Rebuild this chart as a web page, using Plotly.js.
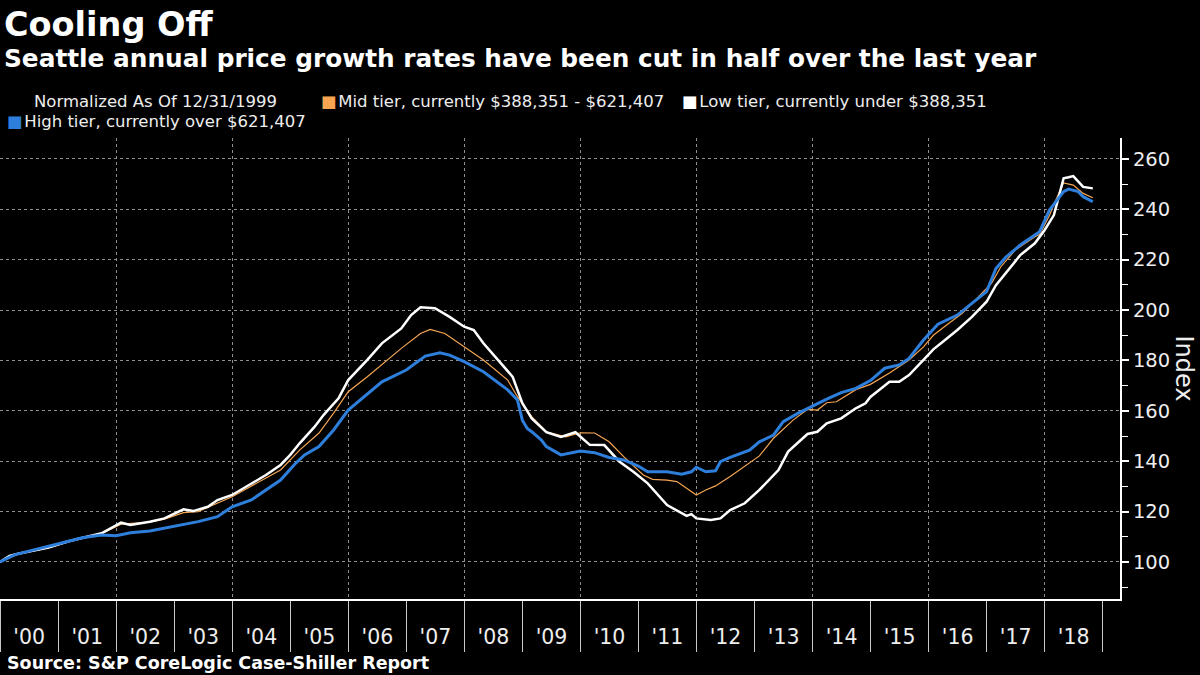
<!DOCTYPE html>
<html>
<head>
<meta charset="utf-8">
<script src="https://cdn.plot.ly/plotly-3.0.1.min.js"></script>
<style>
html, body { margin: 0; padding: 0; background: #000; }
#chart { width: 1200px; height: 675px; }
</style>
</head>
<body>
<div id="chart"></div>
<script>
// ---------------- Text ----------------
const titleText = "Cooling Off";
const subtitleText = "Seattle annual price growth rates have been cut in half over the last year";
const sourceText = "Source: S&P CoreLogic Case-Shiller Report";
const yAxisTitle = "Index";
const normalizedNote = "Normalized As Of 12/31/1999";
const midName = "Mid tier, currently $388,351 - $621,407";
const lowName = "Low tier, currently under $388,351";
const highName = "High tier, currently over $621,407";

// ---------------- Data (index, 12/31/1999 = 100; month of observation) ----------------
const lowMonths = ["1999-12","2000-02","2000-04","2000-07","2000-10","2001-02","2001-05","2001-09","2002-01","2002-03",
  "2002-07","2002-10","2003-02","2003-04","2003-07","2003-09","2003-12","2004-04","2004-07","2004-10",
  "2004-12","2005-02","2005-05","2005-07","2005-10","2005-12","2006-04","2006-07","2006-11","2007-01",
  "2007-03","2007-06","2007-09","2007-12","2008-02","2008-04","2008-07","2008-10","2008-12","2009-02",
  "2009-05","2009-08","2009-11","2010-02","2010-05","2010-08","2010-11","2011-02","2011-06","2011-08",
  "2011-10","2011-11","2011-12","2012-03","2012-05","2012-07","2012-10","2013-01","2013-05","2013-07",
  "2013-10","2013-11","2014-01","2014-03","2014-06","2014-09","2014-11","2014-12","2015-02","2015-04",
  "2015-06","2015-08","2015-11","2016-01","2016-03","2016-06","2016-09","2016-12","2017-02","2017-04",
  "2017-07","2017-10","2017-12","2018-02","2018-04","2018-05","2018-06","2018-08","2018-10"];
const lowValues = [100,102.4,103.4,104.5,105.7,108.1,109.6,111.4,115.6,114.7,
  116,117.3,120.9,120.2,121.9,124.6,126.6,131.2,134.5,138.5,
  142.5,147.1,153.5,158.5,165,172.2,180.2,186.8,192.7,198,
  201.1,200.7,197.3,193.4,192.1,186.8,180.2,173.5,163,157,
  151.5,149.6,151.5,146.5,146.4,140,135.8,131.2,122.6,120.6,
  118.3,119,117.3,116.7,117.3,120.6,123.3,128.6,136.5,143.8,
  149.1,150.8,151.7,155,157,161,163,165.5,168.5,171.5,
  171.5,174.2,180.2,184.4,187.4,192.1,197.3,203.3,209.9,214.6,
  221.8,226.5,231.7,237.7,252.3,252.7,253.2,248.9,248.3];

const midMonths = ["1999-12","2000-04","2000-10","2001-05","2001-09","2002-01","2002-07","2002-10","2003-02","2003-05",
  "2003-12","2004-07","2004-10","2005-02","2005-06","2005-09","2005-12","2006-04","2006-11","2007-03",
  "2007-05","2007-08","2007-12","2008-04","2008-09","2008-11","2009-02","2009-05","2009-09","2009-12",
  "2010-03","2010-06","2010-09","2011-01","2011-03","2011-06","2011-08","2011-10","2011-12","2012-02",
  "2012-04","2012-07","2012-11","2013-01","2013-04","2013-08","2013-11","2014-01","2014-03","2014-05",
  "2014-09","2014-12","2015-04","2015-08","2015-11","2016-01","2016-04","2016-07","2016-10","2017-01",
  "2017-03","2017-06","2017-10","2017-11","2018-01","2018-02","2018-04","2018-06","2018-08","2018-10"];
const midValues = [100,103.3,105.6,109.5,111.2,115,115.8,117,119.6,120,
  125.9,133.2,136.5,144.4,151.2,159.1,167.6,173.5,184.8,190.7,
  192.3,190.7,185.4,180.2,172.2,165.6,157.7,151.7,149.7,151.3,
  151.2,147.7,141.8,134.5,132.8,132.5,131.9,129.2,126.6,128.6,
  130.2,133.9,139.2,142.1,149.1,156.3,160.6,160.3,163.2,163.6,
  168.4,170.5,175,180.2,185.4,190,194.4,198.7,204.6,210.6,
  217.2,223.8,229.1,230,237.5,242,250.5,249.6,246.3,244.6];

const highMonths = ["1999-12","2000-03","2000-07","2000-10","2001-02","2001-05","2001-09","2001-12","2002-03","2002-07",
  "2002-10","2003-02","2003-05","2003-09","2003-12","2004-04","2004-07","2004-10","2005-01","2005-03",
  "2005-06","2005-09","2005-12","2006-07","2006-12","2007-04","2007-07","2007-09","2007-12","2008-04",
  "2008-09","2008-11","2008-12","2009-01","2009-02","2009-04","2009-05","2009-08","2009-12","2010-03",
  "2010-06","2010-09","2010-12","2011-02","2011-06","2011-09","2011-11","2011-12","2012-02","2012-04",
  "2012-05","2012-07","2012-11","2013-01","2013-04","2013-06","2013-09","2013-12","2014-03","2014-06",
  "2014-09","2014-12","2015-03","2015-06","2015-08","2015-11","2016-02","2016-06","2016-09","2016-12",
  "2017-02","2017-04","2017-07","2017-11","2018-01","2018-03","2018-04","2018-05","2018-07","2018-08","2018-10"];
const highValues = [100,102.8,104.8,106.1,108.1,109.6,110.7,110.4,111.6,112.3,
  113.4,114.7,116,118,121.9,124.6,128.6,132.5,139,142.5,
  145.8,152.4,160.3,171.5,176.2,181.7,183,182.1,179.5,175.5,
  168.3,164.3,156.3,153,151.7,148.4,145.8,142.5,144,143.4,
  141.5,140.5,138.1,135.8,135.8,134.8,135.8,137.6,135.8,136.2,
  139.8,141.5,144.4,147.7,150.4,155.7,159,161.9,164.6,167.2,
  168.9,172,176.9,178.2,180.8,188.1,194.4,198,202.7,207.3,
  216.5,220.9,225.8,231.1,239.7,244.3,247,248,247,245,243];

// ---------------- Style ----------------
const midColor = "#f5a552";
const lowColor = "#ffffff";
const highColor = "#2d7fdb";
const textColor = "#eeeeee";
const gridColor = "#8f8f8f";
const FONT = "DejaVu Sans";

const W = 1200, H = 675;
const M = {l: 0, r: 80, t: 138, b: 76};
const PW = W - M.l - M.r, PH = H - M.t - M.b;
const pxX = x => (x - M.l) / PW;
const pxY = y => (H - M.b - y) / PH;

// observations are plotted at the end of their month
function monthEnd(s) {
  const [y, m] = s.split("-").map(Number);
  return new Date(Date.UTC(y, m, 0)).toISOString().slice(0, 10);
}

const xRange = ["1999-12-31", "2019-04-20"];

const traces = [
  {type: "scatter", mode: "lines", name: midName, x: midMonths.map(monthEnd), y: midValues,
   line: {color: midColor, width: 1.2}, hoverinfo: "skip"},
  {type: "scatter", mode: "lines", name: lowName, x: lowMonths.map(monthEnd), y: lowValues,
   line: {color: lowColor, width: 2.5}, hoverinfo: "skip"},
  {type: "scatter", mode: "lines", name: highName, x: highMonths.map(monthEnd), y: highValues,
   line: {color: highColor, width: 3}, hoverinfo: "skip"},
  {type: "scatter", mode: "lines", x: [], y: [], xaxis: "x2", yaxis: "y", showlegend: false, hoverinfo: "skip"}
];

function legendItem(color, label) {
  return '<span style="color:' + color + '">\u25A0</span>\u200A' + label;
}

const legendFont = {family: FONT, size: 16.5, color: textColor};

const annotations = [
  {text: "<b>" + titleText + "</b>", x: pxX(2), y: pxY(25), xanchor: "left", yanchor: "middle",
   font: {family: FONT, size: 33.5, color: "#ffffff"}},
  {text: "<b>" + subtitleText + "</b>", x: pxX(2), y: pxY(59), xanchor: "left", yanchor: "middle",
   font: {family: FONT, size: 24.8, color: "#ffffff"}},
  {text: normalizedNote, x: pxX(32), y: pxY(101), xanchor: "left", yanchor: "middle", font: legendFont},
  {text: legendItem(midColor, midName), x: pxX(319), y: pxY(101), xanchor: "left", yanchor: "middle", font: legendFont},
  {text: legendItem(lowColor, lowName), x: pxX(680), y: pxY(101), xanchor: "left", yanchor: "middle", font: legendFont},
  {text: legendItem(highColor, highName), x: pxX(5), y: pxY(121.5), xanchor: "left", yanchor: "middle", font: legendFont},
  {text: "<b>" + sourceText + "</b>", x: pxX(5), y: pxY(663), xanchor: "left", yanchor: "middle",
   font: {family: FONT, size: 17.5, color: "#ffffff"}},
  {text: yAxisTitle, x: pxX(1184), y: 0.5, xanchor: "center", yanchor: "middle", textangle: 90,
   font: {family: FONT, size: 24, color: textColor}}
].map(a => Object.assign({xref: "paper", yref: "paper", showarrow: false, align: "left"}, a));

const layout = {
  width: W, height: H,
  paper_bgcolor: "#000000", plot_bgcolor: "#000000",
  margin: {l: M.l, r: M.r, t: M.t, b: M.b, pad: 0},
  showlegend: false,
  font: {family: FONT, color: textColor},
  xaxis: {
    type: "date", range: xRange, tick0: "2000-01-01", dtick: "M12", tickformat: "'%y",
    ticklabelmode: "period", ticks: "outside", ticklen: 51, tickwidth: 1, tickcolor: "#c8c8c8",
    ticklabelstandoff: -33,
    showgrid: false, zeroline: false, showline: true, linecolor: "#ffffff", linewidth: 2,
    tickfont: {family: FONT, size: 20.5, color: textColor}, fixedrange: true
  },
  xaxis2: {
    type: "date", overlaying: "x", anchor: "y", range: xRange, tick0: "2000-01-01", dtick: "M24",
    showgrid: true, griddash: "dot", gridcolor: gridColor, gridwidth: 1,
    showticklabels: false, ticks: "", showline: false, zeroline: false, fixedrange: true
  },
  yaxis: {
    side: "right", range: [85.3, 268.3], tick0: 0, dtick: 20,
    showgrid: true, griddash: "dot", gridcolor: gridColor, gridwidth: 1,
    ticks: "outside", ticklen: 7, tickwidth: 2, tickcolor: "#ffffff",
    showline: true, linecolor: "#ffffff", linewidth: 2, zeroline: false,
    tickfont: {family: FONT, size: 19.5, color: textColor},
    minor: {dtick: 10, tick0: 0, ticks: "outside", ticklen: 6, tickwidth: 1, tickcolor: "#ffffff", showgrid: false},
    fixedrange: true
  },
  annotations: annotations
};

Plotly.newPlot("chart", traces, layout, {displayModeBar: false, staticPlot: true});
</script>
</body>
</html>
